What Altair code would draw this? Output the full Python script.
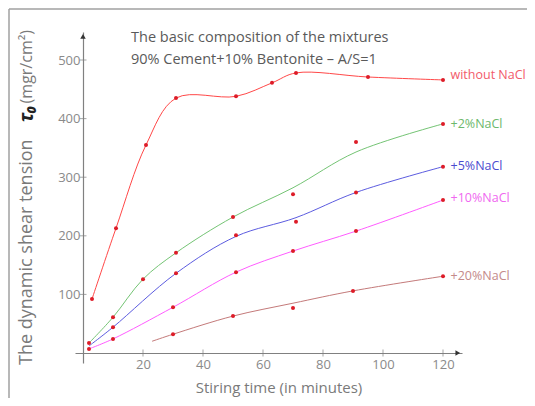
import altair as alt
import pandas as pd

# ---------------- data ----------------
series = ["without NaCl", "+2%NaCl", "+5%NaCl", "+10%NaCl", "+20%NaCl"]

# smoothed curves
red_t = [3, 11, 21, 31, 51, 63, 71, 95, 120]
red_v = [92, 213, 355, 435, 438, 461, 478, 471, 466]
green_t = [2, 10, 20, 31, 50, 70, 91, 120]
green_v = [17, 61, 126, 171, 232, 282, 343, 391]
blue_t = [2, 10, 31, 51, 71, 91, 120]
blue_v = [12, 44, 136, 199, 231, 274, 318]
mag_t = [2, 10, 30, 51, 70, 91, 120]
mag_v = [7, 24, 78, 138, 174, 208, 261]
brown_t = [23, 30, 50, 70, 90, 120]
brown_v = [20, 32, 63, 85, 106, 131]

# measured points (red dots)
red_pt_t = [3, 11, 21, 31, 51, 63, 71, 95, 120]
red_pt_v = [92, 213, 355, 435, 438, 461, 478, 471, 466]
green_pt_t = [2, 10, 20, 31, 50, 70, 91, 120]
green_pt_v = [17, 61, 126, 171, 232, 271, 360, 391]
blue_pt_t = [10, 31, 51, 71, 91, 120]
blue_pt_v = [44, 136, 201, 224, 274, 318]
mag_pt_t = [2, 10, 30, 51, 70, 91, 120]
mag_pt_v = [7, 24, 78, 138, 174, 208, 261]
brown_pt_t = [30, 50, 70, 90, 120]
brown_pt_v = [32, 63, 77, 106, 131]

# label anchor values (y of the series name on the right)
label_v = [475, 391, 319, 264, 131]
label_t = 122.5

x_ticks = [20, 40, 60, 80, 100, 120]
y_ticks = [100, 200, 300, 400, 500]

title_lines = ["The basic composition of the mixtures",
               "90% Cement+10% Bentonite  \u2013  A/S=1"]
y_title_parts = ["The dynamic shear tension", "\u03c4\u2080", "(mgr/cm\u00b2)"]
x_title = "Stiring time (in minutes)"

# ---------------- styles ----------------
line_colors = ["#ff4848", "#74c474", "#5c5ce0", "#ff5cff", "#c47a7a"]
label_colors = ["#f25a6a", "#6cb86c", "#4b4bcf", "#f068f0", "#c48a8a"]
FONT = "Open Sans"

x_domain = [-2.667, 126.333]
y_domain = [-17.06, 547.8]

curves = [(red_t, red_v), (green_t, green_v), (blue_t, blue_v), (mag_t, mag_v), (brown_t, brown_v)]
points = [(red_pt_t, red_pt_v), (green_pt_t, green_pt_v), (blue_pt_t, blue_pt_v),
          (mag_pt_t, mag_pt_v), (brown_pt_t, brown_pt_v)]

line_df = pd.DataFrame([{"series": s, "t": t, "v": v}
                        for s, (ts, vs) in zip(series, curves) for t, v in zip(ts, vs)])
pt_df = pd.DataFrame([{"series": s, "t": t, "v": v}
                      for s, (ts, vs) in zip(series, points) for t, v in zip(ts, vs)])
lab_df = pd.DataFrame({"series": series, "t": [label_t] * len(series), "v": label_v})
xt_df = pd.DataFrame({"t": x_ticks, "v": [0] * len(x_ticks)})
yt_df = pd.DataFrame({"t": [0] * len(y_ticks), "v": y_ticks})
xa_df = pd.DataFrame({"t": [x_domain[1] - 1.4], "v": [0]})
ya_df = pd.DataFrame({"t": [0], "v": [y_domain[1] - 7.5]})

x_axis = alt.Axis(values=x_ticks, ticks=False, grid=False, title=None,
                  domainColor="#808080", domainWidth=1.2,
                  labelColor="#8a8a8a", labelFontSize=13, labelFont=FONT,
                  labelPadding=5, offset=-10)
y_axis = alt.Axis(values=y_ticks, ticks=False, grid=False, title=None,
                  domainColor="#808080", domainWidth=1.2,
                  labelColor="#8a8a8a", labelFontSize=13, labelFont=FONT,
                  labelPadding=3, offset=-8)


def X():
    return alt.X("t:Q", scale=alt.Scale(domain=x_domain, nice=False, zero=False), axis=x_axis)


def Y():
    return alt.Y("v:Q", scale=alt.Scale(domain=y_domain, nice=False, zero=False), axis=y_axis)


def label(text, x, y, **kw):
    return alt.Chart(pd.DataFrame({"s": [text]})).mark_text(font=FONT, **kw).encode(
        x=alt.value(x), y=alt.value(y), text="s:N")


lines = alt.Chart(line_df).mark_line(interpolate="catmull-rom", strokeWidth=1).encode(
    x=X(), y=Y(),
    color=alt.Color("series:N", scale=alt.Scale(domain=series, range=line_colors), legend=None),
    detail="series:N",
)

dots = alt.Chart(pt_df).mark_circle(color="#dd1c28", size=16, opacity=1).encode(x=X(), y=Y())

labels = alt.Chart(lab_df).mark_text(align="left", baseline="middle", fontSize=12.5, font=FONT).encode(
    x=X(), y=Y(), text="series:N",
    color=alt.Color("series:N", scale=alt.Scale(domain=series, range=label_colors), legend=None),
)

xticks = alt.Chart(xt_df).mark_tick(orient="vertical", size=7, thickness=1, color="#808080").encode(x=X(), y=Y())
yticks = alt.Chart(yt_df).mark_tick(orient="horizontal", size=7, thickness=1, color="#808080").encode(x=X(), y=Y())

xarrow = alt.Chart(xa_df).mark_point(shape="triangle-right", filled=True, size=30, color="#333333", opacity=1).encode(x=X(), y=Y())
yarrow = alt.Chart(ya_df).mark_point(shape="triangle-up", filled=True, size=30, color="#333333", opacity=1).encode(x=X(), y=Y())

title1 = label(title_lines[0], 56, 6, align="left", baseline="middle", fontSize=14.5, color="#5a5a5a")
title2 = label(title_lines[1], 56, 28, align="left", baseline="middle", fontSize=14.5, color="#5a5a5a")

ytitle1 = label(y_title_parts[0], -48, 333, align="left", baseline="middle", angle=270,
                fontSize=18, color="#7a7a7a")
ytitle2 = label(y_title_parts[1], -48, 82, align="center", baseline="middle", angle=270,
                fontSize=19, fontWeight="bold", fontStyle="italic", color="#222222")
ytitle3 = label(y_title_parts[2], -48, -2, align="right", baseline="middle", angle=270,
                fontSize=16, color="#7a7a7a")

xtitle = label(x_title, 204, 356, align="center", baseline="middle", fontSize=15, color="#7a7a7a")

frame_l = alt.Chart(pd.DataFrame({"a": [0]})).mark_rule(color="#a0a0a0", strokeWidth=1.5).encode(
    x=alt.value(-66), y=alt.value(-23), y2=alt.value(400))
frame_t = alt.Chart(pd.DataFrame({"a": [0]})).mark_rule(color="#a0a0a0", strokeWidth=1.5).encode(
    x=alt.value(-66), x2=alt.value(470), y=alt.value(-23))

chart = alt.layer(
    frame_l, frame_t, lines, dots, labels, xticks, yticks, xarrow, yarrow,
    title1, title2, ytitle1, ytitle2, ytitle3, xtitle
).resolve_scale(color="independent").properties(
    width=387, height=331,
    autosize=alt.AutoSizeParams(type="none"),
    padding={"left": 67, "top": 24, "right": 65, "bottom": 35},
    background="white",
).configure_view(stroke=None)

chart.save("out.html", embed_options={"renderer": "svg", "actions": False})
